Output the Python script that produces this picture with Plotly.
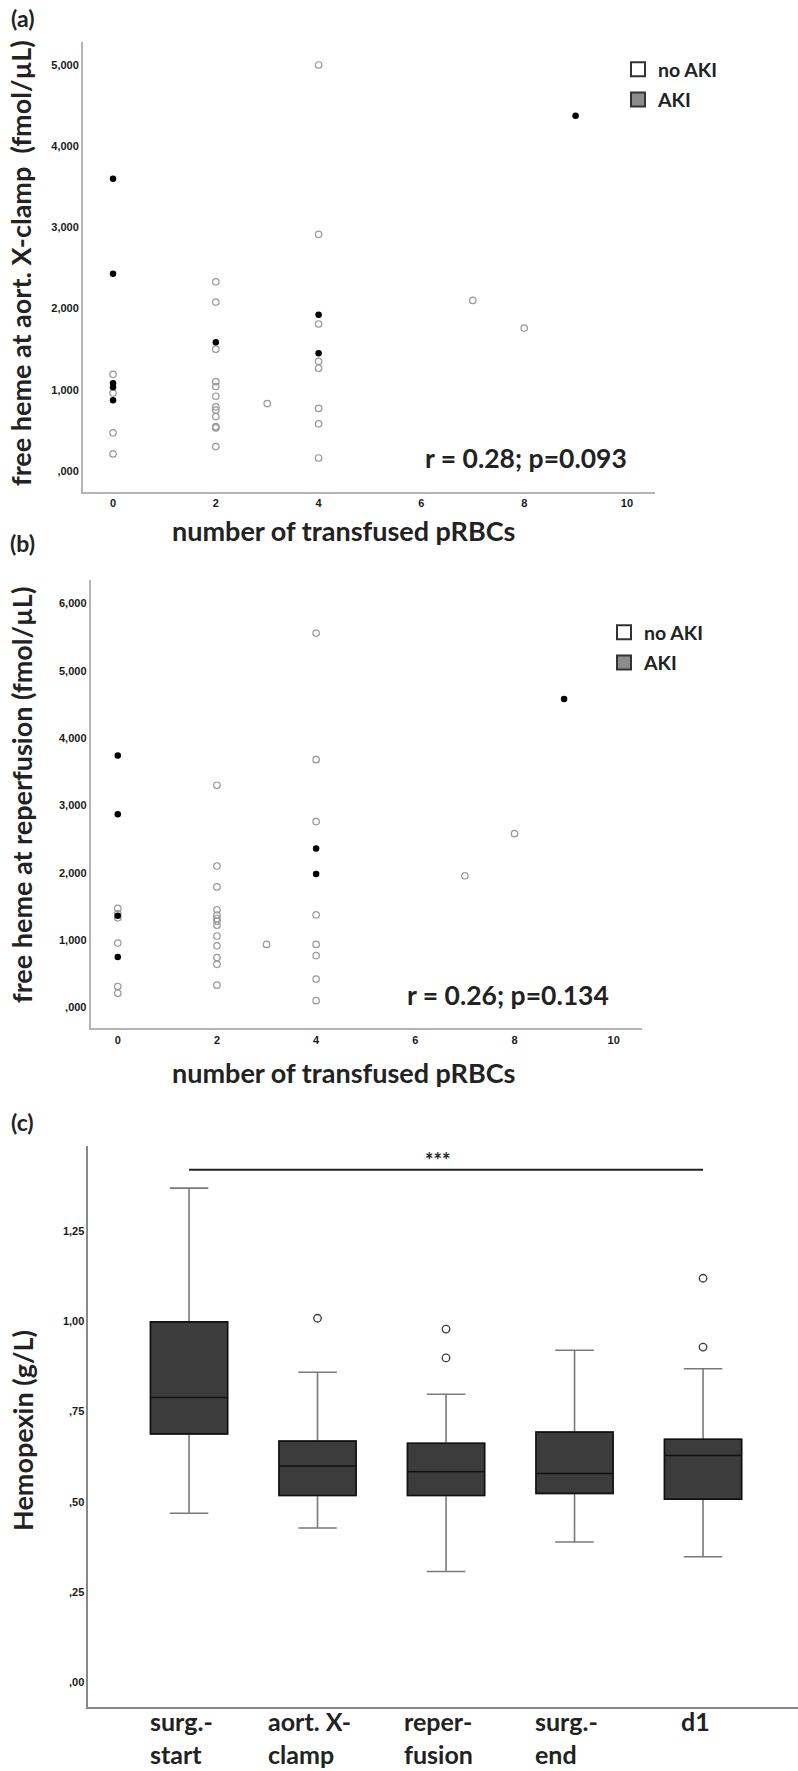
import plotly.graph_objects as go

W, H = 798, 1771
def px(x): return x / W
def py(y): return 1 - y / H

# ---------------- data ----------------
# panel (a): free heme at aortic cross-clamp vs transfused pRBCs
a_noaki_x = [0, 0, 0, 0, 2, 2, 2, 2, 2, 2, 2, 2, 2, 2, 2, 2, 3, 4, 4, 4, 4, 4, 4, 4, 4, 7, 8]
a_noaki_y = [1190, 960, 470, 210, 2330, 2080, 1500, 1100, 1040, 920, 790, 750, 670, 545, 530, 300,
             830, 5000, 2915, 1810, 1350, 1265, 770, 580, 160, 2100, 1760]
a_aki_x = [0, 0, 0, 0, 0, 2, 4, 4, 9]
a_aki_y = [3600, 2430, 1080, 1030, 870, 1585, 1925, 1450, 4375]

# panel (b): free heme at reperfusion vs transfused pRBCs
b_noaki_x = [0, 0, 0, 0, 0, 0, 2, 2, 2, 2, 2, 2, 2, 2, 2, 2, 2, 2, 2, 3, 4, 4, 4, 4, 4, 4, 4, 4, 7, 8]
b_noaki_y = [1470, 1390, 1330, 955, 310, 210, 3300, 2100, 1790, 1450, 1370, 1320, 1280, 1220, 1060,
             915, 740, 640, 330, 935, 5560, 3680, 2760, 1375, 935, 770, 420, 100, 1955, 2580]
b_aki_x = [0, 0, 0, 0, 4, 4, 9]
b_aki_y = [3740, 2870, 1360, 750, 2360, 1980, 4580]

x_tickvals = [0, 2, 4, 6, 8, 10]
a_tickvals = [0, 1000, 2000, 3000, 4000, 5000]
a_ticktext = [",000", "1,000", "2,000", "3,000", "4,000", "5,000"]
b_tickvals = [0, 1000, 2000, 3000, 4000, 5000, 6000]
b_ticktext = [",000", "1,000", "2,000", "3,000", "4,000", "5,000", "6,000"]

# panel (c): hemopexin box plots
c_cats = ["surg.-<br>start", "aort. X-<br>clamp", "reper-<br>fusion", "surg.-<br>end", "d1"]
c_q1 = [0.688, 0.517, 0.517, 0.523, 0.507]
c_median = [0.789, 0.599, 0.583, 0.578, 0.628]
c_q3 = [0.999, 0.668, 0.662, 0.693, 0.673]
c_lower = [0.468, 0.427, 0.306, 0.388, 0.347]
c_upper = [1.370, 0.859, 0.798, 0.920, 0.869]
c_out_x = ["aort. X-<br>clamp", "reper-<br>fusion", "reper-<br>fusion", "d1", "d1"]
c_out_y = [1.009, 0.979, 0.899, 1.120, 0.929]
c_tickvals = [0, 0.25, 0.5, 0.75, 1.0, 1.25]
c_ticktext = [",00", ",25", ",50", ",75", "1,00", "1,25"]
c_sig_y = 1.421
c_star_y = 1.459

# ---------------- styles ----------------
TITLE_FONT = "Lato, 'Open Sans', sans-serif"
TICK_FONT = dict(family="'Liberation Sans', Arial, sans-serif", size=11, color="#1a1a1a",
                 weight="bold")
TXT = "#222222"
OPEN_C = "#9a9a9a"

fig = go.Figure()

def scatter_panel(xa, ya, nx, ny, ax, ay, legend):
    fig.add_trace(go.Scatter(x=nx, y=ny, mode="markers", xaxis=xa, yaxis=ya, showlegend=False,
                             marker=dict(symbol="circle-open", size=6.5, color=OPEN_C,
                                         line=dict(width=1.2, color=OPEN_C))))
    fig.add_trace(go.Scatter(x=ax, y=ay, mode="markers", xaxis=xa, yaxis=ya, showlegend=False,
                             marker=dict(symbol="circle", size=6.5, color="#000000",
                                         line=dict(width=0))))
    # legend entries
    fig.add_trace(go.Scatter(x=[None], y=[None], mode="markers", xaxis=xa, yaxis=ya, name="no AKI",
                             legend=legend, legendgroup=legend + "n",
                             marker=dict(symbol="square", size=14, color="#ffffff",
                                         line=dict(width=2, color="#333333"))))
    fig.add_trace(go.Scatter(x=[None], y=[None], mode="markers", xaxis=xa, yaxis=ya, name="AKI",
                             legend=legend, legendgroup=legend + "a",
                             marker=dict(symbol="square", size=14, color="#8c8c8c",
                                         line=dict(width=2, color="#333333"))))

scatter_panel("x", "y", a_noaki_x, a_noaki_y, a_aki_x, a_aki_y, "legend")
scatter_panel("x2", "y2", b_noaki_x, b_noaki_y, b_aki_x, b_aki_y, "legend2")

# box plots: gray whiskers
fig.add_trace(go.Box(x=c_cats, q1=c_q1, median=c_median, q3=c_q3, lowerfence=c_lower,
                     upperfence=c_upper, xaxis="x3", yaxis="y3", width=0.6, whiskerwidth=0.5,
                     fillcolor="#3c3c3c", line=dict(color="#7a7a7a", width=1.6),
                     showlegend=False, hoverinfo="skip"))
# box body with black outline / median
fig.add_trace(go.Box(x=c_cats, q1=c_q1, median=c_median, q3=c_q3, lowerfence=c_q1,
                     upperfence=c_q3, xaxis="x3", yaxis="y3", width=0.6, whiskerwidth=0,
                     fillcolor="#3c3c3c", line=dict(color="#111111", width=1.6),
                     showlegend=False, hoverinfo="skip"))
fig.add_trace(go.Scatter(x=c_out_x, y=c_out_y, mode="markers", xaxis="x3", yaxis="y3",
                         showlegend=False,
                         marker=dict(symbol="circle-open", size=7.5, color="#3a3a3a",
                                     line=dict(width=1.3, color="#3a3a3a"))))
# significance bar
fig.add_trace(go.Scatter(x=[c_cats[0], c_cats[-1]], y=[c_sig_y, c_sig_y], mode="lines",
                         xaxis="x3", yaxis="y3", showlegend=False,
                         line=dict(color="#222222", width=2)))

axis_common = dict(showline=True, zeroline=False, showgrid=False, ticks="",
                   tickfont=TICK_FONT, fixedrange=True)

LEG_FONT = dict(family=TITLE_FONT, size=19.5, color=TXT, weight="bold")
fig.update_layout(
    width=W, height=H, margin=dict(l=0, r=0, t=0, b=0),
    paper_bgcolor="white", plot_bgcolor="white",
    xaxis=dict(domain=[px(83), px(655)], range=[-0.584, 10.545], tickvals=x_tickvals,
               linecolor="#b4b4b4", linewidth=2, anchor="y", **axis_common),
    yaxis=dict(domain=[py(492), py(42)], range=[-259, 5283], tickvals=a_tickvals,
               ticktext=a_ticktext, linecolor="#b4b4b4", linewidth=2, anchor="x", **axis_common),
    xaxis2=dict(domain=[px(90.7), px(641.7)], range=[-0.546, 10.565], tickvals=x_tickvals,
                linecolor="#b4b4b4", linewidth=2, anchor="y2", **axis_common),
    yaxis2=dict(domain=[py(1028.3), py(580)], range=[-311, 6349], tickvals=b_tickvals,
                ticktext=b_ticktext, linecolor="#b4b4b4", linewidth=2, anchor="x2", **axis_common),
    xaxis3=dict(domain=[px(88.3), 1.0], range=[-0.784, 4.739], type="category",
                categoryorder="array", categoryarray=c_cats, showticklabels=False,
                linecolor="#888888", linewidth=1.5, anchor="y3", **axis_common),
    yaxis3=dict(domain=[py(1706.7), py(1146)], range=[-0.069, 1.487], tickvals=c_tickvals,
                ticktext=c_ticktext, linecolor="#888888", linewidth=1.5, anchor="x3",
                **axis_common),
    legend=dict(x=px(618), y=py(50), xanchor="left", yanchor="top", bgcolor="rgba(0,0,0,0)",
                font=LEG_FONT, itemsizing="trace", tracegroupgap=2, borderwidth=0),
    legend2=dict(x=px(604), y=py(613), xanchor="left", yanchor="top", bgcolor="rgba(0,0,0,0)",
                 font=LEG_FONT, itemsizing="trace", tracegroupgap=2, borderwidth=0),
)

def bold_ann(text, x, y, size, textangle=0, **kw):
    fig.add_annotation(text=text, x=x, y=y, xref="paper", yref="paper", showarrow=False,
                       textangle=textangle, xanchor="center", yanchor="middle",
                       font=dict(family=TITLE_FONT, size=size, color=TXT, weight="bold"), **kw)

# panel labels
bold_ann("(a)", px(22), py(18), 23)
bold_ann("(b)", px(22), py(543), 23)
bold_ann("(c)", px(22), py(1122), 23)

# axis titles
bold_ann("number of transfused pRBCs", px(343), py(531), 27)
bold_ann("number of transfused pRBCs", px(343), py(1072), 27)
bold_ann("free heme at aort. X-clamp&nbsp;&nbsp;(fmol/µL)", px(21), py(263), 27, textangle=-90)
bold_ann("free heme at reperfusion (fmol/µL)", px(21), py(795), 27, textangle=-90)
bold_ann("Hemopexin (g/L)", px(22), py(1431), 27, textangle=-90)

# correlation annotations
bold_ann("r = 0.28; p=0.093", px(526), py(458), 26.5)
bold_ann("r = 0.26; p=0.134", px(508.5), py(995), 26.5)

# significance stars
fig.add_annotation(text="***", x=c_cats[2], y=c_star_y, xref="x3", yref="y3", showarrow=False,
                   xanchor="center", yanchor="middle", xshift=-8, yshift=-4,
                   font=dict(family=TITLE_FONT, size=20, color=TXT, weight="bold"))

# category labels (left aligned, two lines)
for c in c_cats:
    fig.add_annotation(text=c, x=c, y=py(1704), xref="x3", yref="paper", showarrow=False,
                       xanchor="center", yanchor="top", align="left", xshift=-8,
                       font=dict(family=TITLE_FONT, size=25, color=TXT, weight="bold"))

# remove the default 8px page margin so the figure fills the window exactly; hide modebar
fig.write_html("out.html", post_script="document.body.style.margin='0';",
               config={"displayModeBar": False})
